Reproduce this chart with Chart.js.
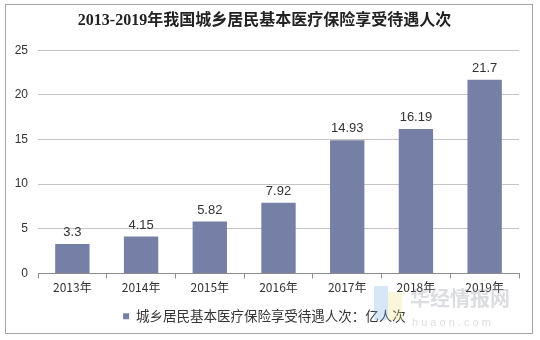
<!DOCTYPE html>
<html>
<head>
<meta charset="utf-8">
<script src="https://cdn.jsdelivr.net/npm/chart.js@4.4.0/dist/chart.umd.min.js"></script>
<style>
  html, body { margin: 0; padding: 0; background: #fff; }
  #wrap { width: 540px; height: 340px; position: relative; }
</style>
</head>
<body>
<div id="wrap"><canvas id="myChart"></canvas></div>
<script>
// 데이터
var years = ['2013年', '2014年', '2015年', '2016年', '2017年', '2018年', '2019年'];
var visits = [3.3, 4.15, 5.82, 7.92, 14.93, 16.19, 21.7];
var yTicks = [0, 5, 10, 15, 20, 25];
var seriesName = '城乡居民基本医疗保险享受待遇人次：亿人次';
var titleText = '2013-2019年我国城乡居民基本医疗保险享受待遇人次';

var cjk = '"Noto Sans CJK SC", "Liberation Sans", Arial, sans-serif';
var latin = '"Liberation Sans", Arial, sans-serif';

// 바깥 테두리 + 막대 위 숫자 + 워터마크
var extras = {
    id: 'extras',
    afterDraw: function(chart) {
        var c = chart.ctx;
        c.save();
        c.strokeStyle = '#a6a6a6';
        c.lineWidth = 1;
        c.strokeRect(5.5, 4.5, 527, 329);

        var meta = chart.getDatasetMeta(0);
        c.fillStyle = '#333';
        c.font = '13px ' + latin;
        c.textAlign = 'center';
        c.textBaseline = 'bottom';
        meta.data.forEach(function(bar, i) {
            c.fillText(String(visits[i]), bar.x, bar.y - 5);
        });

        // 워터마크 (흐리게)
        c.globalAlpha = 0.3;
        c.fillStyle = '#7fb0e8';
        c.fillRect(374, 286, 14, 34);
        c.fillStyle = '#f0e08a';
        c.fillRect(388, 292, 14, 28);
        c.fillStyle = '#8a9098';
        c.font = 'bold 20px ' + cjk;
        c.textAlign = 'left';
        c.textBaseline = 'alphabetic';
        c.fillText('华经情报网', 410, 306);
        c.font = '11px ' + latin;
        c.fillText('h u a o n . c o m', 412, 326);
        c.restore();
    }
};

var ctx = document.getElementById('myChart').getContext('2d');
var myChart = new Chart(ctx, {
    type: 'bar',
    data: {
        labels: years,
        datasets: [{
            label: seriesName,
            data: visits,
            backgroundColor: '#7680a6',
            borderWidth: 0,
            categoryPercentage: 1,
            barPercentage: 0.5
        }]
    },
    options: {
        responsive: true,
        maintainAspectRatio: false,
        animation: false,
        layout: { padding: { left: 10, right: 21, top: 4, bottom: 7 } },
        plugins: {
            title: {
                display: true,
                text: titleText,
                color: '#222',
                font: { family: '"Liberation Serif", "Noto Sans CJK SC", serif', size: 16, weight: 'bold' },
                padding: { top: 7, bottom: 20 }
            },
            legend: {
                position: 'bottom',
                labels: {
                    color: '#333',
                    font: { family: cjk, size: 13.5 },
                    boxWidth: 6,
                    boxHeight: 6,
                    padding: 14
                }
            },
            tooltip: { enabled: false }
        },
        scales: {
            x: {
                afterFit: function(axis) { axis.height = 22; },
                grid: {
                    display: true,
                    drawOnChartArea: false,
                    drawTicks: true,
                    tickLength: 5,
                    color: '#8c8c8c',
                    offset: true
                },
                border: { color: '#8c8c8c' },
                ticks: {
                    color: '#333',
                    font: { family: cjk, size: 12 },
                    padding: 2
                }
            },
            y: {
                min: 0,
                max: 25,
                afterFit: function(axis) { axis.width = 28; },
                afterBuildTicks: function(axis) {
                    axis.ticks = yTicks.map(function(v) { return { value: v }; });
                },
                grid: { color: '#c4c4c4', drawTicks: false },
                border: { display: false },
                ticks: {
                    color: '#333',
                    font: { family: latin, size: 12 },
                    padding: 10
                }
            }
        }
    },
    plugins: [extras]
});
</script>
</body>
</html>
